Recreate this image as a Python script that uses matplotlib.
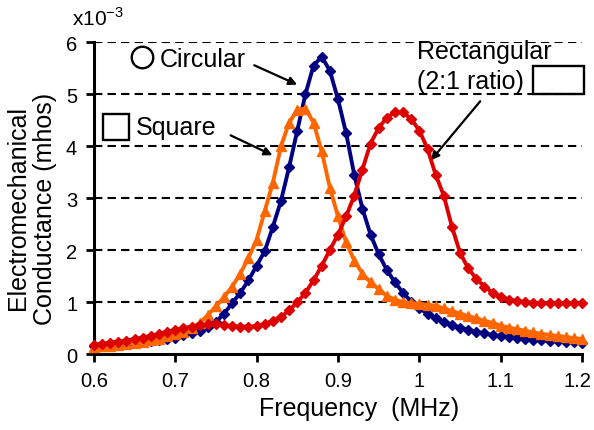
import numpy as np
import matplotlib
matplotlib.use("Agg")
import matplotlib.pyplot as plt
import matplotlib.transforms as mtrans
from matplotlib.patches import Rectangle

plt.rcParams['font.family'] = ['Liberation Sans', 'DejaVu Sans']
plt.rcParams['mathtext.fontset'] = 'custom'
plt.rcParams['mathtext.rm'] = 'Liberation Sans'

# frequency (MHz), 0.60 .. 1.20 step 0.01
freq = np.round(np.arange(0.60, 1.2001, 0.01), 2)

# conductance (x1e-3 mhos)
circular = [0.15, 0.16, 0.17, 0.18, 0.20, 0.21, 0.23, 0.25, 0.27, 0.29,
            0.32, 0.36, 0.40, 0.45, 0.52, 0.62, 0.78, 0.98, 1.18, 1.42,
            1.70, 1.98, 2.45, 2.95, 3.60, 4.30, 5.00, 5.55, 5.72, 5.45,
            4.90, 4.25, 3.45, 2.80, 2.30, 1.92, 1.62, 1.38, 1.18, 1.01,
            0.88, 0.78, 0.70, 0.62, 0.56, 0.51, 0.47, 0.43, 0.40, 0.37,
            0.35, 0.33, 0.31, 0.30, 0.28, 0.27, 0.26, 0.25, 0.24, 0.23,
            0.22]
square = [0.13, 0.15, 0.16, 0.18, 0.20, 0.22, 0.24, 0.27, 0.30, 0.34,
          0.38, 0.43, 0.50, 0.60, 0.75, 0.92, 1.10, 1.30, 1.55, 1.85,
          2.20, 2.75, 3.30, 4.00, 4.45, 4.70, 4.72, 4.45, 3.90, 3.20,
          2.65, 2.15, 1.80, 1.55, 1.38, 1.25, 1.12, 1.05, 1.00, 0.98,
          0.97, 0.95, 0.93, 0.88, 0.83, 0.78, 0.73, 0.69, 0.64, 0.60,
          0.55, 0.51, 0.48, 0.45, 0.42, 0.39, 0.37, 0.35, 0.33, 0.31,
          0.29]
rectangular = [0.18, 0.20, 0.22, 0.24, 0.26, 0.29, 0.32, 0.35, 0.39, 0.43,
               0.46, 0.50, 0.53, 0.56, 0.57, 0.57, 0.56, 0.54, 0.53, 0.53,
               0.54, 0.58, 0.64, 0.72, 0.84, 1.00, 1.18, 1.42, 1.70, 2.00,
               2.30, 2.65, 3.05, 3.55, 4.05, 4.35, 4.55, 4.65, 4.65, 4.52,
               4.30, 3.95, 3.45, 3.05, 2.45, 1.95, 1.65, 1.45, 1.30, 1.18,
               1.10, 1.05, 1.02, 1.00, 0.99, 0.98, 0.98, 0.98, 0.98, 0.98,
               0.98]

xticks = [0.6, 0.7, 0.8, 0.9, 1.0, 1.1, 1.2]
xticklabels = ['0.6', '0.7', '0.8', '0.9', '1', '1.1', '1.2']
yticks = [0, 1, 2, 3, 4, 5, 6]

fig = plt.figure(figsize=(5.94, 4.31), dpi=100)
ax = fig.add_axes([0.158, 0.176, 0.822, 0.724])

# dashed horizontal grid
for y in yticks[1:]:
    ax.axhline(y, color='black', lw=1.5, ls=(0, (4, 2.5)), zorder=1)

ax.plot(freq, circular, color='#000080', lw=2.8, marker='D', ms=5.2,
        clip_on=False, zorder=3)
ax.plot(freq, square, color='#FF6600', lw=2.8, marker='^', ms=7.5,
        clip_on=False, zorder=4)
ax.plot(freq, rectangular, color='#DD0000', lw=2.8, marker='D', ms=5.6,
        clip_on=False, zorder=5)

ax.set_xlim(0.6, 1.2)
ax.set_ylim(0, 6)
ax.set_xticks(xticks)
ax.set_xticklabels(xticklabels)
ax.set_yticks(yticks)
ax.tick_params(labelsize=14.5, length=6, width=2, direction='out', pad=6)
for s in ['top', 'right']:
    ax.spines[s].set_visible(False)
for s in ['left', 'bottom']:
    ax.spines[s].set_linewidth(2.2)

# nudge last x label so it stays inside the figure
last = ax.get_xticklabels()[-1]
last.set_transform(last.get_transform() +
                   mtrans.ScaledTranslation(-5 / 100, 0, fig.dpi_scale_trans))

ax.set_xlabel('Frequency  (MHz)', fontsize=18)
ax.xaxis.set_label_coords(0.543, -0.135)
ax.set_ylabel('Electromechanical\nConductance (mhos)', fontsize=18, linespacing=1.15)
ax.yaxis.set_label_coords(-0.076, 0.47)

ax.text(-0.045, 1.055, r'x10$^{-3}$', transform=ax.transAxes, fontsize=15,
        ha='left', va='baseline')

# shape annotations
arrow = dict(arrowstyle='-|>', color='black', lw=1.6, mutation_scale=12)
ax.plot([0.659], [5.71], marker='o', ms=15.5, mfc='none', mec='black',
        mew=1.7, clip_on=False)
ax.text(0.681, 5.67, 'Circular', fontsize=18, ha='left', va='center')
ax.annotate('', xy=(0.853, 5.16), xytext=(0.794, 5.577), arrowprops=arrow)

ax.plot([0.6277], [4.365], marker='s', ms=19, mfc='none', mec='black',
        mew=1.7, clip_on=False)
ax.text(0.652, 4.37, 'Square', fontsize=18, ha='left', va='center')
ax.annotate('', xy=(0.8226, 3.802), xytext=(0.765, 4.23), arrowprops=arrow)

ax.text(0.997, 5.83, 'Rectangular', fontsize=18, ha='left', va='center')
ax.text(0.997, 5.25, '(2:1 ratio)', fontsize=18, ha='left', va='center')
ax.add_patch(Rectangle((1.14, 5.0), 0.0627, 0.54, fill=False, ec='black',
                       lw=1.7, clip_on=False, zorder=6))
ax.annotate('', xy=(1.012, 3.686), xytext=(1.077, 4.904), arrowprops=arrow)

fig.savefig('out.png', dpi=100)
